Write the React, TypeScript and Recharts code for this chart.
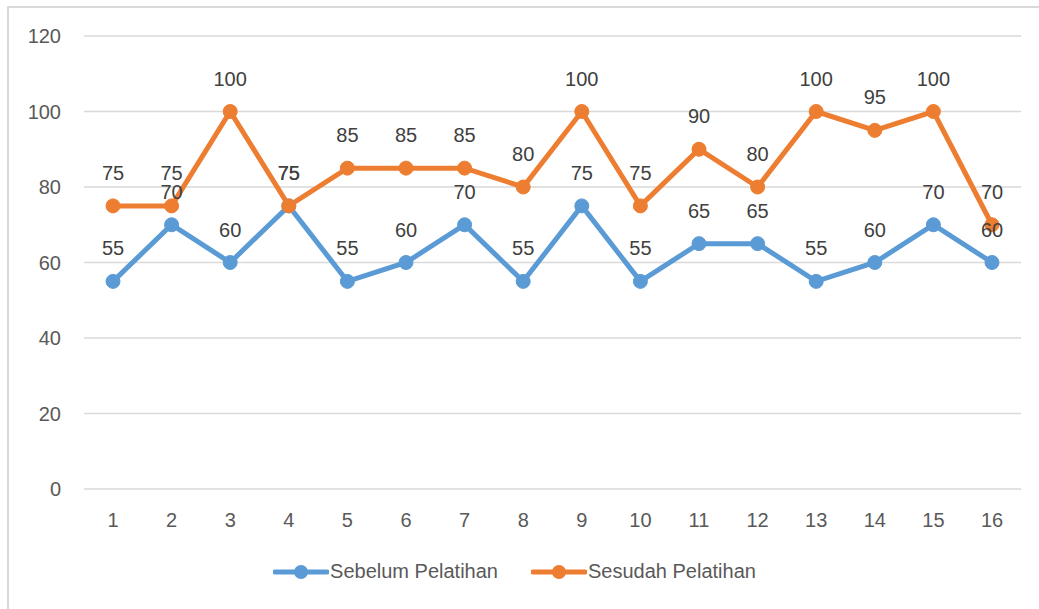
import { LineChart, Line, XAxis, YAxis, CartesianGrid, Legend, LabelList } from 'recharts';

const categories = ['1', '2', '3', '4', '5', '6', '7', '8', '9', '10', '11', '12', '13', '14', '15', '16'];
const sebelum = [55, 70, 60, 75, 55, 60, 70, 55, 75, 55, 65, 65, 55, 60, 70, 60];
const sesudah = [75, 75, 100, 75, 85, 85, 85, 80, 100, 75, 90, 80, 100, 95, 100, 70];
const yTicks = [0, 20, 40, 60, 80, 100, 120];

const BLUE = '#5B9BD5';
const ORANGE = '#ED7D31';
const FONT = '"Liberation Sans", Arial, sans-serif';

const data = categories.map((c, i) => ({
  name: c,
  sebelum: sebelum[i],
  sesudah: sesudah[i],
}));

const series = [
  { key: 'sebelum', label: 'Sebelum Pelatihan', color: BLUE },
  { key: 'sesudah', label: 'Sesudah Pelatihan', color: ORANGE },
];

function ChartLegend() {
  return (
    <div style={{ display: 'flex', justifyContent: 'center', gap: 33, fontFamily: FONT, fontSize: 20, color: '#595959', paddingRight: 10 }}>
      {series.map((s) => (
        <div key={s.key} style={{ display: 'flex', alignItems: 'center' }}>
          <svg width={56} height={16} style={{ marginRight: 1 }}>
            <line x1={2} y1={8} x2={54} y2={8} stroke={s.color} strokeWidth={5} strokeLinecap="round" />
            <circle cx={28} cy={8} r={7} fill={s.color} />
          </svg>
          <span>{s.label}</span>
        </div>
      ))}
    </div>
  );
}

export default function App() {
  return (
    <div style={{ position: 'absolute', left: 0, top: 0, width: 1039, height: 609, background: '#fff', overflow: 'hidden' }}>
      <div style={{ position: 'absolute', left: 7, top: 6, width: 1040, height: 610, borderLeft: '2px solid #D9D9D9', borderTop: '2px solid #D9D9D9' }} />
      <LineChart
        width={1039}
        height={609}
        data={data}
        margin={{ top: 36, right: 18, left: 0, bottom: 47 }}
        style={{ position: 'absolute', left: 0, top: 0 }}
      >
        <CartesianGrid vertical={false} stroke="#D9D9D9" strokeWidth={1.5} />
        <XAxis
          dataKey="name"
          axisLine={false}
          tickLine={false}
          tickSize={6}
          tickMargin={18}
          height={50}
          interval={0}
          padding={{ left: 29, right: 29 }}
          tick={{ fill: '#595959', fontSize: 20, fontFamily: FONT }}
        />
        <YAxis
          domain={[0, 120]}
          ticks={yTicks}
          axisLine={false}
          tickLine={false}
          tickSize={6}
          tickMargin={17}
          width={84}
          tick={{ fill: '#595959', fontSize: 20, fontFamily: FONT }}
        />
        <Legend verticalAlign="bottom" wrapperStyle={{ top: 560, left: 0, width: 1039 }} content={() => <ChartLegend />} />
        {series.map((s) => (
          <Line
            key={s.key}
            dataKey={s.key}
            name={s.label}
            stroke={s.color}
            strokeWidth={5}
            dot={{ r: 7, fill: s.color, stroke: s.color, strokeWidth: 1 }}
            isAnimationActive={false}
          >
            <LabelList dataKey={s.key} position="top" offset={26} fill="#404040" fontSize={20} fontFamily={FONT} />
          </Line>
        ))}
      </LineChart>
    </div>
  );
}
